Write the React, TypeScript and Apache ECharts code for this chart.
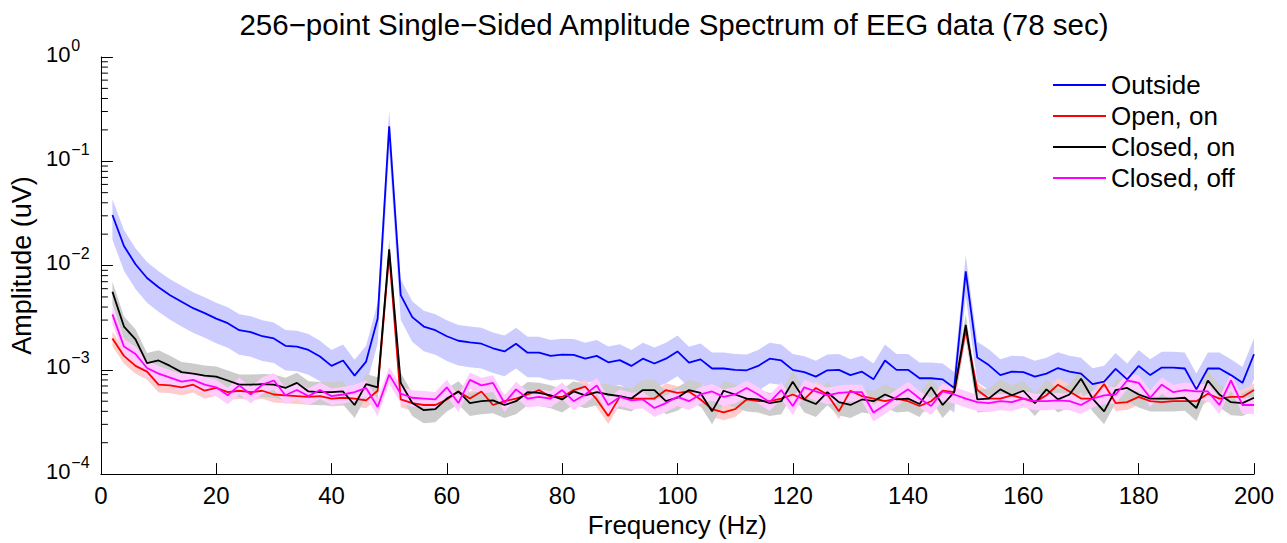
import React, { useEffect, useRef } from "react";
import * as echarts from "echarts";

const freqs = [
  2, 4, 6, 8, 10, 12, 14, 16, 18, 20, 22, 24, 26, 28, 30, 32, 34, 36, 38, 40,
  42, 44, 46, 48, 50, 52, 54, 56, 58, 60, 62, 64, 66, 68, 70, 72, 74, 76, 78, 80,
  82, 84, 86, 88, 90, 92, 94, 96, 98, 100, 102, 104, 106, 108, 110, 112, 114, 116, 118, 120,
  122, 124, 126, 128, 130, 132, 134, 136, 138, 140, 142, 144, 146, 148, 150, 152, 154, 156, 158, 160,
  162, 164, 166, 168, 170, 172, 174, 176, 178, 180, 182, 184, 186, 188, 190, 192, 194, 196, 198, 200,
];

const outside = [
  0.0305, 0.0154, 0.0103, 0.0076, 0.0062, 0.0052, 0.0045, 0.0039, 0.0035, 0.0031,
  0.0028, 0.0024, 0.0023, 0.0021, 0.002, 0.0017, 0.00167, 0.00155, 0.00134, 0.00109,
  0.00123, 0.00088, 0.0012, 0.0031, 0.217, 0.0052, 0.0032, 0.0026, 0.0024, 0.0021,
  0.0019, 0.00183, 0.00178, 0.00161, 0.0015, 0.00178, 0.00146, 0.00146, 0.00136, 0.0014,
  0.00139, 0.00128, 0.00136, 0.00118, 0.00124, 0.00109, 0.00128, 0.00115, 0.00128, 0.0015,
  0.00117, 0.00126, 0.00103, 0.00103, 0.001, 0.00099, 0.00109, 0.00128, 0.00123, 0.001,
  0.00095, 0.00086, 0.00099, 0.001, 0.00089, 0.00096, 0.00081, 0.00123, 0.001, 0.001,
  0.00083, 0.00083, 0.00081, 0.00067, 0.0088, 0.00131, 0.00111, 0.00089, 0.00096, 0.00095,
  0.00086, 0.00092, 0.00104, 0.00096, 0.00092, 0.00073, 0.00077, 0.00102, 0.00081, 0.00109,
  0.00089, 0.00105, 0.00105, 0.00103, 0.00065, 0.00103, 0.00103, 0.00089, 0.00075, 0.00141,
];

const openOn = [
  0.002, 0.00136, 0.00109, 0.00096, 0.00072, 0.00071, 0.00068, 0.00072, 0.00063, 0.00067,
  0.00061, 0.00063, 0.00061, 0.00063, 0.00058, 0.00057, 0.00056, 0.00055, 0.00056, 0.00053,
  0.00054, 0.00053, 0.00051, 0.00063, 0.013, 0.00052, 0.00048, 0.00046, 0.00046, 0.00052,
  0.00062, 0.00053, 0.00062, 0.00046, 0.0005, 0.00053, 0.00058, 0.00064, 0.00055, 0.00055,
  0.00064, 0.00069, 0.00052, 0.00036, 0.00055, 0.00053, 0.00053, 0.00053, 0.00064, 0.0006,
  0.00062, 0.00052, 0.00042, 0.00039, 0.00042, 0.00052, 0.0005, 0.0005, 0.00053, 0.00058,
  0.00052, 0.00067, 0.00058, 0.0004, 0.00063, 0.00056, 0.00053, 0.0005, 0.00053, 0.0005,
  0.00045, 0.0005, 0.00063, 0.00061, 0.0024, 0.00064, 0.00053, 0.00053, 0.00057, 0.00053,
  0.00049, 0.00057, 0.00072, 0.00062, 0.00053, 0.00053, 0.00073, 0.00048, 0.00049, 0.00055,
  0.0005, 0.00049, 0.0005, 0.0005, 0.0005, 0.00059, 0.00053, 0.00055, 0.00055, 0.00064,
];

const closedOn = [
  0.0056, 0.0026, 0.00196, 0.00116, 0.00123, 0.00109, 0.00095, 0.00092, 0.00088, 0.00086,
  0.00079, 0.00072, 0.00072, 0.00073, 0.00072, 0.00067, 0.00075, 0.00062, 0.00061, 0.00061,
  0.00062, 0.00046, 0.00073, 0.00068, 0.0143, 0.00075, 0.00048, 0.00041, 0.00042, 0.00053,
  0.00062, 0.00048, 0.0005, 0.00051, 0.00046, 0.0005, 0.00061, 0.0006, 0.00057, 0.00052,
  0.00062, 0.00057, 0.00061, 0.00058, 0.00056, 0.00053, 0.00064, 0.00064, 0.0005, 0.00054,
  0.00064, 0.0006, 0.0004, 0.00063, 0.00058, 0.00053, 0.00052, 0.00048, 0.0005, 0.00077,
  0.00052, 0.00047, 0.00061, 0.00049, 0.00046, 0.00052, 0.0005, 0.00058, 0.00052, 0.00053,
  0.00047, 0.00068, 0.00046, 0.00061, 0.0027, 0.00052, 0.00053, 0.00065, 0.00057, 0.00063,
  0.00048, 0.00065, 0.00052, 0.00058, 0.00082, 0.00053, 0.0004, 0.00064, 0.00067, 0.00058,
  0.00053, 0.00053, 0.00053, 0.00054, 0.00043, 0.00079, 0.00058, 0.00049, 0.00048, 0.00054,
];

const closedOff = [
  0.0034, 0.00167, 0.00142, 0.00104, 0.00092, 0.00084, 0.00077, 0.0008, 0.00072, 0.00068,
  0.00057, 0.00071, 0.00058, 0.00072, 0.00079, 0.00057, 0.00064, 0.00056, 0.00064, 0.00056,
  0.00058, 0.00061, 0.00067, 0.00044, 0.0009, 0.00059, 0.00054, 0.00053, 0.00052, 0.00068,
  0.00048, 0.0008, 0.00071, 0.00075, 0.00048, 0.00065, 0.00053, 0.00055, 0.00053, 0.00064,
  0.0005, 0.00058, 0.00071, 0.00046, 0.00055, 0.00051, 0.00052, 0.00043, 0.00048, 0.00055,
  0.0005, 0.00058, 0.00062, 0.00055, 0.00058, 0.00067, 0.00058, 0.00049, 0.00064, 0.00045,
  0.00068, 0.00062, 0.00057, 0.0006, 0.00061, 0.00061, 0.00039, 0.00046, 0.00055, 0.00065,
  0.00053, 0.00045, 0.00062, 0.00058, 0.00053, 0.00049, 0.00048, 0.0005, 0.00049, 0.00053,
  0.0005, 0.0005, 0.00051, 0.0005, 0.00046, 0.00053, 0.00057, 0.00058, 0.00079, 0.00075,
  0.00054, 0.00072, 0.00061, 0.00064, 0.00062, 0.00062, 0.00046, 0.00079, 0.00046, 0.00046,
];

// relative half-width of each shaded band
const spreadOutside = 0.42;
const spreadOpenOn = 0.16;
const spreadClosedOn = 0.25;
const spreadClosedOff = 0.18;

const seriesNames = ["Outside", "Open, on", "Closed, on", "Closed, off"];
const lineColors = ["#0000ff", "#ff0000", "#000000", "#ff00ff"];
const bandColors = ["#ccccff", "#ffcccc", "#cccccc", "#ffccff"];

const titleText = "256\u2212point Single\u2212Sided Amplitude Spectrum of EEG data (78 sec)";
const xName = "Frequency (Hz)";
const yName = "Amplitude (uV)";

const minorDecades = [1e-4, 1e-3, 1e-2, 1e-1];
const minorMultipliers = [2, 3, 4, 5, 6, 7, 8, 9];

const FONT = "Liberation Sans, Arial, Helvetica, sans-serif";

export default function App() {
  const ref = useRef<HTMLDivElement>(null);

  useEffect(() => {
    if (!ref.current) return;
    const chart = echarts.init(ref.current, undefined, { renderer: "svg" });

    const allSeries = [outside, openOn, closedOn, closedOff];
    const spreads = [spreadOutside, spreadOpenOn, spreadClosedOn, spreadClosedOff];

    const bands = allSeries.map((vals, k) => ({
      type: "custom",
      silent: true,
      z: 1,
      data: freqs.map((f, i) => [f, vals[i] * (1 - spreads[k]), vals[i] * (1 + spreads[k])]),
      encode: { x: 0, y: [1, 2] },
      renderItem: (params: any, api: any) => {
        if (params.dataIndex !== 0) return null;
        const upper = freqs.map((f, i) => api.coord([f, vals[i] * (1 + spreads[k])]));
        const lower = freqs
          .map((f, i) => api.coord([f, vals[i] * (1 - spreads[k])]))
          .reverse();
        return {
          type: "polygon",
          shape: { points: upper.concat(lower) },
          style: { fill: bandColors[k], stroke: "none" },
        };
      },
    }));

    const lines = allSeries.map((vals, k) => ({
      name: seriesNames[k],
      type: "line",
      z: 3,
      symbol: "none",
      showSymbol: false,
      data: freqs.map((f, i) => [f, vals[i]]),
      lineStyle: { color: lineColors[k], width: 1.8 },
      itemStyle: { color: lineColors[k] },
    }));

    const minorVals: number[] = [];
    minorDecades.forEach((d) => minorMultipliers.forEach((m) => minorVals.push(m * d)));

    const minorTicks = {
      type: "custom",
      silent: true,
      z: 5,
      data: minorVals.map((v) => [0, v]),
      encode: { x: 0, y: 1 },
      renderItem: (params: any, api: any) => {
        const p = api.coord([0, api.value(1)]);
        return {
          type: "line",
          shape: { x1: p[0], y1: p[1], x2: p[0] + 7, y2: p[1] },
          style: { stroke: "#000", lineWidth: 1 },
        };
      },
    };

    chart.setOption({
      animation: false,
      backgroundColor: "#ffffff",
      title: {
        text: titleText,
        left: 674,
        top: 9,
        textAlign: "center",
        padding: 0,
        textStyle: { fontFamily: FONT, fontSize: 29.5, fontWeight: "normal", color: "#000" },
      },
      legend: {
        orient: "vertical",
        left: 1053,
        top: 72,
        padding: 0,
        itemWidth: 53,
        itemHeight: 2,
        itemGap: 5,
        icon: "rect",
        data: seriesNames.map((n) => ({ name: n, icon: "rect" })),
        textStyle: { fontFamily: FONT, fontSize: 26, color: "#000", lineHeight: 26 },
      },
      grid: { left: 97, top: 57, width: 1157, height: 422, containLabel: false },
      xAxis: {
        type: "value",
        min: 0,
        max: 200,
        interval: 20,
        name: xName,
        nameLocation: "middle",
        nameGap: 35,
        nameTextStyle: { fontFamily: FONT, fontSize: 26, color: "#000" },
        axisLine: { show: true, onZero: false, lineStyle: { color: "#000", width: 1 } },
        axisTick: { show: true, inside: true, length: 11, lineStyle: { color: "#000" } },
        axisLabel: { fontFamily: FONT, fontSize: 24, color: "#000", margin: 9 },
        splitLine: { show: false },
      },
      yAxis: {
        type: "log",
        logBase: 10,
        min: 1e-4,
        max: 1,
        name: yName,
        nameLocation: "middle",
        nameGap: 65,
        nameRotate: 90,
        nameTextStyle: { fontFamily: FONT, fontSize: 27, color: "#000" },
        axisLine: { show: true, onZero: false, lineStyle: { color: "#000", width: 1 } },
        axisTick: { show: true, inside: true, length: 12, lineStyle: { color: "#000" } },
        axisLabel: {
          margin: 55,
          align: "left",
          padding: [0, 0, 6, 0],
          formatter: (v: number) => {
            const e = Math.round(Math.log10(v));
            const s = e < 0 ? "\u2212" + Math.abs(e) : String(e);
            return "{b|10}{s|" + s + "}";
          },
          rich: {
            b: { fontFamily: FONT, fontSize: 22, color: "#000", lineHeight: 22, verticalAlign: "bottom" },
            s: { fontFamily: FONT, fontSize: 16, color: "#000", lineHeight: 16, verticalAlign: "bottom", padding: [0, 0, 12, 1] },
          },
        },
        splitLine: { show: false },
      },
      series: [...bands, ...lines, minorTicks],
    });

    return () => chart.dispose();
  }, []);

  return (
    <div
      ref={ref}
      style={{ position: "fixed", left: 0, top: 0, width: "1287px", height: "543px", background: "#fff" }}
    />
  );
}
